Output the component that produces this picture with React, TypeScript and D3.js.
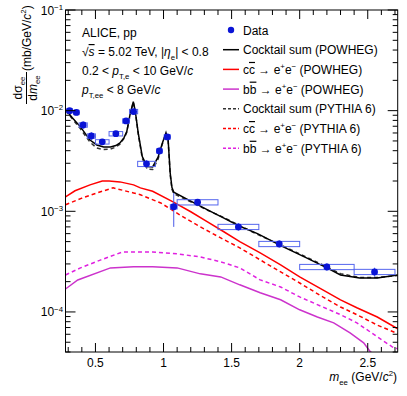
import React, { useRef, useEffect } from 'react';
import * as d3 from 'd3';

// data points: bin edges, value, stat error (abs, up/down), systematic (relative)
const binLo = [0.29, 0.34, 0.38, 0.44, 0.5, 0.6, 0.7, 0.75, 0.81, 0.95, 1.005, 1.05, 1.1, 1.4, 1.7, 2.0, 2.4];
const binHi = [0.33, 0.38, 0.44, 0.5, 0.6, 0.7, 0.75, 0.81, 0.94, 0.99, 1.05, 1.1, 1.4, 1.7, 2.0, 2.4, 2.7];
const dataY = [1.0e-2, 9.6e-3, 7.2e-3, 5.6e-3, 4.9e-3, 5.9e-3, 7.9e-3, 9.8e-3, 2.96e-3, 3.98e-3, 5.48e-3, 1.11e-3, 1.23e-3, 7.0e-4, 4.74e-4, 2.8e-4, 2.5e-4];
const statUp = [6e-4, 6e-4, 6e-4, 5e-4, 3e-4, 4e-4, 5e-4, 6e-4, 2.5e-4, 3e-4, 3.5e-4, 4.1e-4, 9e-5, 6e-5, 4e-5, 2.5e-5, 2.5e-5];
const statDn = [6e-4, 6e-4, 6e-4, 5e-4, 3e-4, 4e-4, 5e-4, 6e-4, 2.5e-4, 3e-4, 3.5e-4, 4.1e-4, 9e-5, 6e-5, 4e-5, 2.5e-5, 2.5e-5];
const sysRel = [0.05, 0.05, 0.05, 0.05, 0.05, 0.05, 0.05, 0.05, 0.06, 0.05, 0.05, 0.05, 0.06, 0.06, 0.06, 0.06, 0.06];

// cocktail sum POWHEG
const sumPowM = [0.28, 0.33, 0.39, 0.46, 0.51, 0.56, 0.61, 0.65, 0.68, 0.71, 0.73, 0.755, 0.778, 0.792, 0.814, 0.844, 0.88, 0.92, 0.96, 0.99, 1.018, 1.034, 1.049, 1.062, 1.075, 1.2, 1.32, 1.44, 1.56, 1.69, 1.88, 2.05, 2.2, 2.3, 2.44, 2.57, 2.72];
const sumPowV = [1.03e-2, 8.5e-3, 6.9e-3, 5.1e-3, 4.56e-3, 4.35e-3, 4.36e-3, 4.5e-3, 4.78e-3, 5.4e-3, 6.2e-3, 9.3e-3, 1.23e-2, 1.0e-2, 6.0e-3, 3.5e-3, 2.78e-3, 2.76e-3, 3.45e-3, 4.7e-3, 6.05e-3, 5.1e-3, 2.4e-3, 1.72e-3, 1.55e-3, 1.26e-3, 1.04e-3, 8.6e-4, 7.1e-4, 6.0e-4, 4.43e-4, 3.44e-4, 2.74e-4, 2.33e-4, 2.18e-4, 2.18e-4, 2.33e-4];
// cocktail sum PYTHIA 6
const sumPytV = [1.0e-2, 8.3e-3, 6.6e-3, 4.85e-3, 4.25e-3, 4.1e-3, 4.15e-3, 4.35e-3, 4.65e-3, 5.3e-3, 6.1e-3, 9.2e-3, 1.21e-2, 9.9e-3, 5.9e-3, 3.35e-3, 2.62e-3, 2.6e-3, 3.3e-3, 4.6e-3, 5.95e-3, 5.0e-3, 2.3e-3, 1.65e-3, 1.5e-3, 1.24e-3, 1.03e-3, 8.7e-4, 7.2e-4, 5.9e-4, 4.5e-4, 3.5e-4, 2.8e-4, 2.4e-4, 2.2e-4, 2.2e-4, 2.3e-4];

// ccbar POWHEG / PYTHIA
const ccPowM = [0.28, 0.35, 0.46, 0.55, 0.6, 0.68, 0.78, 0.83, 0.92, 1.07, 1.2, 1.32, 1.44, 1.56, 1.71, 1.86, 2.0, 2.17, 2.3, 2.42, 2.57, 2.72];
const ccPowV = [1.39e-3, 1.6e-3, 1.83e-3, 2.0e-3, 2.0e-3, 1.96e-3, 1.83e-3, 1.71e-3, 1.58e-3, 1.24e-3, 9.9e-4, 7.9e-4, 6.3e-4, 5.0e-4, 3.86e-4, 2.94e-4, 2.23e-4, 1.66e-4, 1.32e-4, 1.1e-4, 8.9e-5, 6.8e-5];
const ccPytM = [0.28, 0.4, 0.51, 0.63, 0.78, 0.83, 0.98, 1.12, 1.27, 1.42, 1.56, 1.71, 1.86, 2.0, 2.17, 2.3, 2.42, 2.57, 2.72];
const ccPytV = [1.16e-3, 1.35e-3, 1.52e-3, 1.71e-3, 1.52e-3, 1.46e-3, 1.21e-3, 9.2e-4, 7.0e-4, 5.44e-4, 4.33e-4, 3.29e-4, 2.5e-4, 1.94e-4, 1.41e-4, 1.12e-4, 9.4e-5, 7.4e-5, 6.1e-5];

// bbbar POWHEG / PYTHIA
const bbPowM = [0.28, 0.37, 0.61, 0.78, 0.92, 1.1, 1.27, 1.42, 1.56, 1.71, 1.86, 2.0, 2.13, 2.25, 2.37, 2.47, 2.52, 2.6, 2.72];
const bbPowV = [1.69e-4, 2.08e-4, 2.74e-4, 2.81e-4, 2.81e-4, 2.74e-4, 2.39e-4, 2.23e-4, 1.86e-4, 1.55e-4, 1.32e-4, 1.05e-4, 8.9e-5, 7.8e-5, 6.2e-5, 4.93e-5, 4.0e-5, 3.6e-5, 3.2e-5];
const bbPytM = [0.28, 0.39, 0.54, 0.7, 0.92, 1.1, 1.27, 1.42, 1.56, 1.71, 1.86, 2.0, 2.17, 2.3, 2.42, 2.57, 2.68, 2.72];
const bbPytV = [2.33e-4, 2.74e-4, 3.29e-4, 3.95e-4, 3.95e-4, 3.78e-4, 3.52e-4, 3.15e-4, 2.74e-4, 2.08e-4, 1.77e-4, 1.41e-4, 1.12e-4, 9.4e-5, 7.8e-5, 5.66e-5, 4.5e-5, 4.3e-5];

const xTicks = [0.5, 1, 1.5, 2, 2.5];
const yDecades = [-4, -3, -2, -1];

const FONT = "'Liberation Sans', Arial, sans-serif";
const FS = 12;

type Part = { t: string; it?: boolean; sub?: boolean; sup?: boolean; over?: boolean };

function rich(sel: any, parts: Part[], fs: number) {
  let off = 0;
  parts.forEach(p => {
    const target = p.sub ? fs * 0.3 : p.sup ? -fs * 0.4 : 0;
    const ts = sel.append('tspan').attr('dy', target - off).text(p.t);
    off = target;
    if (p.sub || p.sup) ts.attr('font-size', fs * 0.65);
    if (p.it) ts.attr('font-style', 'italic');
    if (p.over) ts.style('text-decoration', 'overline');
  });
}

function Chart() {
  const ref = useRef<SVGSVGElement>(null);

  useEffect(() => {
    document.body.style.margin = '0';
    const svg = d3.select(ref.current);
    svg.selectAll('*').remove();

    const left = 65.5, right = 397.7, top = 10, bottom = 352;
    const x = d3.scaleLinear().domain([0.28, 2.72]).range([left, right]);
    const y = d3.scaleLog().domain([4e-5, 0.1]).range([bottom, top]);

    svg.append('rect').attr('width', 407).attr('height', 396).attr('fill', 'white');

    svg.append('defs').append('clipPath').attr('id', 'plotclip')
      .append('rect').attr('x', left).attr('y', top).attr('width', right - left).attr('height', bottom - top);

    const plot = svg.append('g').attr('clip-path', 'url(#plotclip)');

    // curves
    const line = d3.line<[number, number]>().x(d => x(d[0])).y(d => y(d[1]));
    const curves = [
      { m: bbPowM, v: bbPowV, color: '#cc33cc', dash: null },
      { m: bbPytM, v: bbPytV, color: '#e020e0', dash: '4,3' },
      { m: ccPowM, v: ccPowV, color: '#ff0000', dash: null },
      { m: ccPytM, v: ccPytV, color: '#ff0000', dash: '4,3' },
      { m: sumPowM, v: sumPytV, color: '#333333', dash: '4,3' },
      { m: sumPowM, v: sumPowV, color: '#000000', dash: null },
    ];
    curves.forEach(c => {
      plot.append('path')
        .datum(c.m.map((m, i) => [m, c.v[i]] as [number, number]))
        .attr('d', line)
        .attr('fill', 'none')
        .attr('stroke', c.color)
        .attr('stroke-width', 1.5)
        .attr('stroke-dasharray', c.dash);
    });

    // data: systematic boxes, stat bars, markers
    const pts = dataY.map((v, i) => ({ lo: binLo[i], hi: binHi[i], v, up: statUp[i], dn: statDn[i], s: sysRel[i] }));
    const dg = plot.append('g');
    dg.selectAll('rect.sys').data(pts).enter().append('rect')
      .attr('x', d => x(d.lo))
      .attr('width', d => x(d.hi) - x(d.lo))
      .attr('y', d => y(d.v * (1 + d.s)))
      .attr('height', d => y(d.v * (1 - d.s)) - y(d.v * (1 + d.s)))
      .attr('fill', 'none')
      .attr('stroke', '#5566ee')
      .attr('stroke-width', 1);
    dg.selectAll('line.stat').data(pts).enter().append('line')
      .attr('x1', d => x((d.lo + d.hi) / 2)).attr('x2', d => x((d.lo + d.hi) / 2))
      .attr('y1', d => y(d.v + d.up)).attr('y2', d => y(d.v - d.dn))
      .attr('stroke', '#4a5ae8').attr('stroke-width', 1);
    dg.selectAll('circle').data(pts).enter().append('circle')
      .attr('cx', d => x((d.lo + d.hi) / 2))
      .attr('cy', d => y(d.v))
      .attr('r', 3.4)
      .attr('fill', '#0a14d6');

    // frame
    svg.append('rect').attr('x', left).attr('y', top).attr('width', right - left).attr('height', bottom - top)
      .attr('fill', 'none').attr('stroke', 'black').attr('stroke-width', 1);

    const ticks = svg.append('g').attr('stroke', 'black').attr('stroke-width', 1);
    // x ticks (bottom + top)
    for (let k = 3; k <= 27; k++) {
      const v = k / 10;
      const len = k % 5 === 0 ? 9 : 5;
      const px = x(v);
      ticks.append('line').attr('x1', px).attr('x2', px).attr('y1', bottom).attr('y2', bottom - len);
      ticks.append('line').attr('x1', px).attr('x2', px).attr('y1', top).attr('y2', top + len);
    }
    // y ticks (left + right)
    for (let e = -5; e <= -1; e++) {
      for (let mlt = 1; mlt <= 9; mlt++) {
        const v = mlt * Math.pow(10, e);
        if (v < 4e-5 || v > 0.1) continue;
        const len = mlt === 1 ? 10 : 5;
        const py = y(v);
        ticks.append('line').attr('x1', left).attr('x2', left + len).attr('y1', py).attr('y2', py);
        ticks.append('line').attr('x1', right).attr('x2', right - len).attr('y1', py).attr('y2', py);
      }
    }

    const txt = svg.append('g').attr('font-family', FONT).attr('fill', 'black');

    // x tick labels
    xTicks.forEach(t => {
      txt.append('text').attr('x', x(t)).attr('y', 367).attr('text-anchor', 'middle')
        .attr('font-size', FS).text(String(t));
    });
    // y tick labels
    yDecades.forEach(e => {
      const t = txt.append('text').attr('x', 63).attr('y', y(Math.pow(10, e)) + 4.5)
        .attr('text-anchor', 'end').attr('font-size', FS);
      rich(t, [{ t: '10' }, { t: '\u2212' + Math.abs(e), sup: true }], FS);
    });

    // x title
    const xt = txt.append('text').attr('x', 397).attr('y', 381).attr('text-anchor', 'end').attr('font-size', FS);
    rich(xt, [{ t: 'm', it: true }, { t: 'ee', sub: true }, { t: ' (GeV/' }, { t: 'c', it: true }, { t: '2', sup: true }, { t: ')' }], FS);

    // y title (fraction + units)
    const yt = txt.append('g').attr('transform', 'rotate(-90)');
    const num = yt.append('text').attr('x', -88).attr('y', 21.5).attr('text-anchor', 'middle').attr('font-size', FS);
    rich(num, [{ t: 'd\u03c3' }, { t: 'ee', sub: true }], FS);
    yt.append('line').attr('x1', -104).attr('x2', -72).attr('y1', 26.5).attr('y2', 26.5)
      .attr('stroke', 'black').attr('stroke-width', 1);
    const den = yt.append('text').attr('x', -88).attr('y', 36.5).attr('text-anchor', 'middle').attr('font-size', FS);
    rich(den, [{ t: 'd' }, { t: 'm', it: true }, { t: 'ee', sub: true }], FS);
    const unit = yt.append('text').attr('x', -71).attr('y', 31).attr('text-anchor', 'start').attr('font-size', FS);
    rich(unit, [{ t: '(mb/GeV/' }, { t: 'c', it: true }, { t: '2', sup: true }, { t: ')' }], FS);

    // info text
    const info: Part[][] = [
      [{ t: 'ALICE, pp' }],
      [{ t: '\u221a' }, { t: 's', it: true, over: true }, { t: ' = 5.02 TeV, |' }, { t: '\u03b7', it: true }, { t: 'e', sub: true }, { t: '| < 0.8' }],
      [{ t: '0.2 < ' }, { t: 'p', it: true }, { t: 'T,e', sub: true }, { t: ' < 10 GeV/' }, { t: 'c', it: true }],
      [{ t: 'p', it: true }, { t: 'T,ee', sub: true }, { t: ' < 8 GeV/' }, { t: 'c', it: true }],
    ];
    info.forEach((parts, i) => {
      const t = txt.append('text').attr('x', 82).attr('y', 37 + i * 19).attr('font-size', FS);
      rich(t, parts, FS);
    });

    // legend
    const cc: Part[] = [{ t: 'c' }, { t: 'c', over: true }, { t: ' \u2192 e' }, { t: '+', sup: true }, { t: 'e' }, { t: '\u2212', sup: true }];
    const bb: Part[] = [{ t: 'b' }, { t: 'b', over: true }, { t: ' \u2192 e' }, { t: '+', sup: true }, { t: 'e' }, { t: '\u2212', sup: true }];
    const legend = [
      { parts: [{ t: 'Data' }], marker: true, color: '#0a14d6', dash: null },
      { parts: [{ t: 'Cocktail sum (POWHEG)' }], color: '#000000', dash: null },
      { parts: [...cc, { t: ' (POWHEG)' }], color: '#ff0000', dash: null },
      { parts: [...bb, { t: ' (POWHEG)' }], color: '#cc33cc', dash: null },
      { parts: [{ t: 'Cocktail sum (PYTHIA 6)' }], color: '#333333', dash: '3,2' },
      { parts: [...cc, { t: ' (PYTHIA 6)' }], color: '#ff0000', dash: '3,2' },
      { parts: [...bb, { t: ' (PYTHIA 6)' }], color: '#e020e0', dash: '3,2' },
    ];
    legend.forEach((l: any, i) => {
      const ly = 30 + i * 19.7;
      if (l.marker) {
        svg.append('circle').attr('cx', 231).attr('cy', ly).attr('r', 3.2).attr('fill', l.color);
      } else {
        svg.append('line').attr('x1', 223).attr('x2', 239).attr('y1', ly).attr('y2', ly)
          .attr('stroke', l.color).attr('stroke-width', 1.5).attr('stroke-dasharray', l.dash);
      }
      const t = txt.append('text').attr('x', 243).attr('y', ly + 4.5).attr('font-size', FS);
      rich(t, l.parts, FS);
    });
  }, []);

  return <svg ref={ref} width={407} height={396} style={{ display: 'block' }}></svg>;
}

export default function App() {
  return <Chart />;
}
